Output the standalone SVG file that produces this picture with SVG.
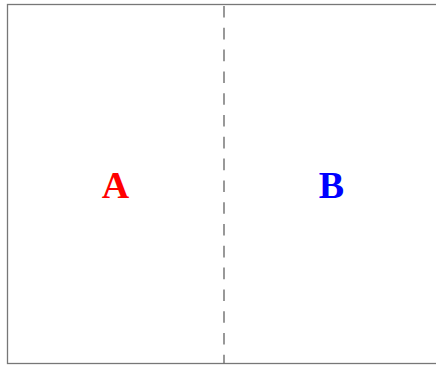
<svg xmlns="http://www.w3.org/2000/svg" width="436" height="365" viewBox="0 0 436 365">
<style>
.frame{fill:#fff;stroke:#777;stroke-width:1.3}
.div{stroke:#6e6e6e;stroke-width:1.4;stroke-dasharray:11.6 10.2}
.lbl{font-family:"Liberation Serif","DejaVu Serif",serif;font-weight:bold;font-size:38px;text-anchor:middle}
</style>
<rect width="436" height="365" fill="#fff"/>
<g id="frame"><rect class="frame" x="7.5" y="4.5" width="433" height="359"/></g>
<g id="connectors"><line class="div" x1="224" y1="6" x2="224" y2="363.5"/></g>
<g id="nodeA"><text class="lbl" x="115.5" y="198" fill="#ff0000">A</text></g>
<g id="nodeB"><text class="lbl" x="331.5" y="198" fill="#0000ff">B</text></g>
</svg>
